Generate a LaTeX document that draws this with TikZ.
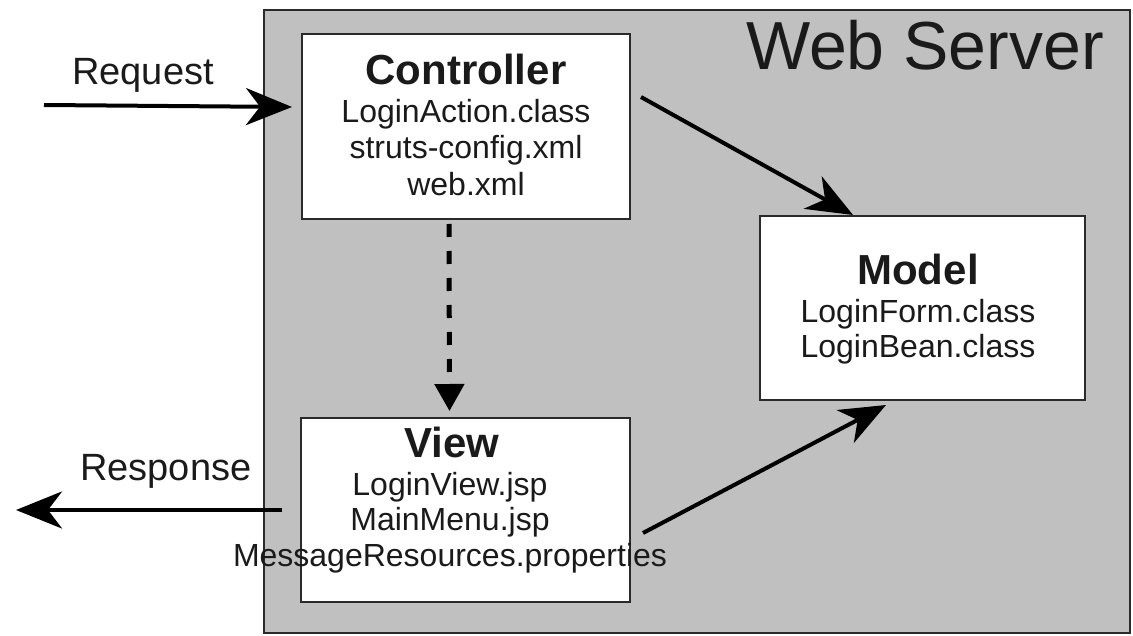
\documentclass[tikz,border=0pt]{standalone}
\usepackage{fontspec}
\setmainfont{Liberation Sans}
\usetikzlibrary{arrows.meta,calc}
\newcommand\ttlFont{\fontsize{42}{48}\selectfont\bfseries}
\newcommand\lstFontA{\fontsize{32}{36.5}\selectfont}
\newcommand\lstFontB{\fontsize{32}{35.5}\selectfont}
\newcommand\ioFont{\fontsize{38}{42}\selectfont}
\newcommand\wsFont{\fontsize{68}{72}\selectfont}
\definecolor{srvgray}{HTML}{C0C0C0}
\definecolor{edge}{HTML}{2A2A2A}
\definecolor{txtcol}{HTML}{1A1A1A}
\begin{document}
\begin{tikzpicture}[x=1pt,y=-1pt,
  box/.style={draw=edge, line width=2pt, fill=white, inner sep=0pt},
  txt/.style={inner sep=0pt, text=txtcol},
  bigarrow/.style={line width=4pt, -{Stealth[length=46pt,width=37pt,inset=14pt]}},
  dasharrow/.style={line width=5pt, dash pattern=on 13pt off 14pt, -{Triangle[length=27pt,width=29pt]}}]
\useasboundingbox (0,0) rectangle (1133,636);
\node[draw=edge, line width=2pt, fill=srvgray, inner sep=0pt, minimum width=866pt, minimum height=623pt] (server) at (697,321.5) {};
\node[txt, anchor=base west, font=\wsFont] (wstitle) at (746,70) {Web Server};

\node[box, minimum width=328pt, minimum height=185pt] (ctrl) at (466,126.5) {};
\node[box, minimum width=325pt, minimum height=184pt] (model) at (922.5,308) {};
\node[box, minimum width=329pt, minimum height=184pt] (view) at (465.5,510) {};

\node[txt, anchor=base, font=\ttlFont] (ctrlT) at (466,85) {Controller};
\node[txt, anchor=north, align=center, font=\lstFontA] (ctrlL) at (466,99) {LoginAction.class\\struts-config.xml\\web.xml};

\node[txt, anchor=base, font=\ttlFont] (modelT) at (918,285) {Model};
\node[txt, anchor=north, align=center, font=\lstFontB] (modelL) at (918,299) {LoginForm.class\\LoginBean.class};

\node[txt, anchor=base, font=\ttlFont] (viewT) at (452,457) {View};
\node[txt, anchor=north, align=center, font=\lstFontB] (viewL) at (450,472) {LoginView.jsp\\MainMenu.jsp\\MessageResources.properties};

\node[txt, anchor=base west, font=\ioFont] (reqT) at (72,85) {Request};
\node[txt, anchor=base west, font=\ioFont] (resT) at (80,480) {Response};

\coordinate (reqStart) at (44,105);
\coordinate (resEnd) at (16,510);

\draw[bigarrow, draw=black] (reqStart) -- ($(reqStart -| ctrl.west)+(-9,2)$);
\draw[bigarrow, draw=black] ($(view.west)+(-18,0)$) -- (resEnd);
\draw[bigarrow, draw=black] ($(ctrl.north east)+(10,64)$) -- ($(model.north west)+(94,0)$);
\draw[bigarrow, draw=black] ($(view.east)+(12,23)$) -- ($(model.south west)+(127,4)$);
\draw[dasharrow, draw=black] ($(ctrl.south)+(-17,4)$) -- ($(view.north)+(-16,-6)$);
\end{tikzpicture}
\end{document}
